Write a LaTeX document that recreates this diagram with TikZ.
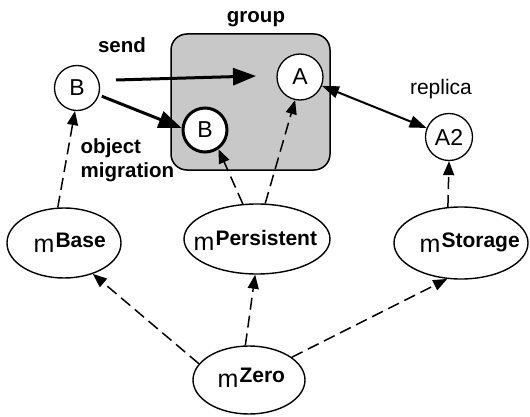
\documentclass[tikz,border=0pt]{standalone}
\usepackage{fontspec}
\setmainfont{Liberation Sans}
\usetikzlibrary{arrows.meta,shapes.geometric}

\definecolor{boxgray}{RGB}{200,200,200}

\tikzset{
  obj/.style={circle, draw, line width=1.3pt, fill=white, inner sep=0pt,
              minimum size=46pt, font=\fontsize{23}{26}\selectfont},
  module/.style={ellipse, draw, line width=1.4pt, fill=white, inner sep=0pt},
  lbl/.style={inner sep=0pt, font=\fontsize{20.5}{24}\selectfont\bfseries},
  plain/.style={inner sep=0pt, font=\fontsize{21}{24}\selectfont},
  mlabel/.style={inner sep=0pt, anchor=base west},
  dep/.style={line width=1.5pt, dash pattern=on 12pt off 6pt,
              -{Triangle[length=14pt,width=11pt]}},
  msg/.style={line width=3pt, -{Triangle[length=23pt,width=17pt]}},
  repl/.style={line width=2pt, {Triangle[length=17pt,width=12pt]}-{Triangle[length=17pt,width=12pt]}}
}

\newcommand{\modname}[1]{{\fontsize{25}{28}\selectfont m}\hspace{1pt}\raisebox{5pt}{\fontsize{21}{24}\selectfont\bfseries #1}}

\begin{document}
\begin{tikzpicture}[x=1pt,y=-1pt]
  \useasboundingbox (0,0) rectangle (530,417);

  % the group
  \node[draw, line width=1.5pt, fill=boxgray, rounded corners=16pt,
        minimum width=159pt, minimum height=136pt, inner sep=0pt]
        (group) at (250.5,102) {};
  \node[lbl, anchor=base] (groupLbl) at (256,23) {group};

  % objects
  \node[obj, minimum size=45pt] (B1) at (77,88) {B};
  \node[obj, line width=3pt, minimum size=44pt] (B2) at (205,130) {B};
  \node[obj] (A) at (300,77) {A};
  \node[obj, minimum size=47pt] (A2) at (449,137) {A2};

  % modules
  \node[module, minimum width=114pt, minimum height=70pt] (base) at (64,243) {};
  \node[module, minimum width=146pt, minimum height=70pt] (pers) at (257,239) {};
  \node[module, minimum width=134pt, minimum height=72pt] (stor) at (461,243) {};
  \node[module, minimum width=112pt, minimum height=68pt] (zero) at (249,380) {};

  \node[mlabel] (baseLbl) at (33.5,252) {\modname{Base}};
  \node[mlabel] (persLbl) at (193.5,250) {\modname{Persistent}};
  \node[mlabel] (storLbl) at (419.5,252) {\modname{Storage}};
  \node[mlabel] (zeroLbl) at (217.5,387) {\modname{Zero}};

  % text labels
  \node[lbl, anchor=base] (sendLbl) at (122,53) {send};
  \node[plain, anchor=base] (replLbl) at (441,95) {replica};
  \node[lbl, anchor=north west, align=left] (migLbl) at (80.5,138)
        {object\\migration};

  % messages
  \coordinate (sendFrom) at (116,80);
  \coordinate (sendTo) at (256,76);
  \draw[msg] (sendFrom) -- (sendTo);
  \draw[msg, shorten <=3pt] (B1.342) -- (B2.175);
  \draw[repl] (A) -- (A2);

  % dependencies
  \draw[dep] (base.100) -- (B1.265);
  \draw[dep] (pers.112) -- (B2.305);
  \draw[dep] (pers.77) -- (A.258);
  \draw[dep] (stor.110) -- (A2.south);
  \draw[dep] (zero.162) -- (base.313);
  \draw[dep] (zero.96) -- (pers.267);
  \draw[dep] (zero.28) -- (stor.249);
\end{tikzpicture}
\end{document}
